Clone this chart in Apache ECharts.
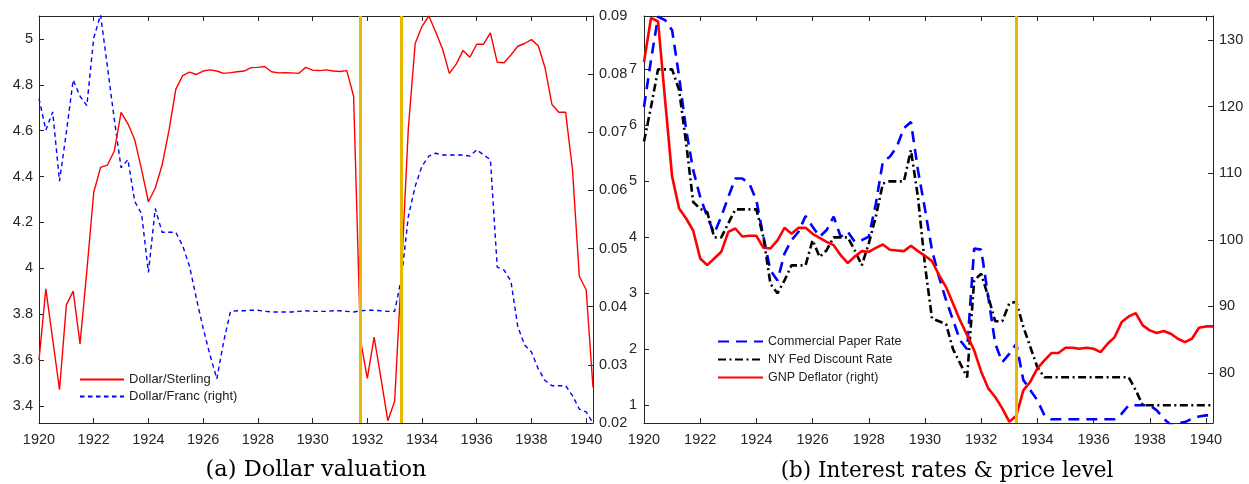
<!DOCTYPE html>
<html><head><meta charset="utf-8">
<script src="https://cdn.jsdelivr.net/npm/echarts@6/dist/echarts.min.js"></script>
<style>html,body{margin:0;padding:0;background:#fff}#c{width:1249px;height:484px}</style>
</head><body><div id="c"></div><script>
// Quarterly observations, 1920Q1 .. 1940Q2
const startYear = 1920;
const quarters = Array.from({length: 82}, (_, i) => startYear + i * 0.25);
const yearTicks = [1920,1922,1924,1926,1928,1930,1932,1934,1936,1938,1940];

// Panel (a): Dollar valuation
const dollarSterling = [
  3.60,3.91,3.69,3.47, 3.84,3.90,3.67,3.99, 4.33,4.44,4.45,4.51, 4.68,4.63,4.56,4.43,
  4.29,4.35,4.45,4.60, 4.78,4.84,4.855,4.845, 4.86,4.865,4.86,4.85, 4.853,4.857,4.86,4.875,
  4.876,4.88,4.857,4.852, 4.853,4.852,4.85,4.876, 4.864,4.862,4.865,4.86, 4.858,4.862,4.75,3.69,
  3.52,3.70,3.52,3.335, 3.42,3.99,4.61,4.98, 5.055,5.10,5.03,4.956, 4.85,4.89,4.95,4.92,
  4.977,4.977,5.026,4.898, 4.896,4.93,4.968,4.98, 4.997,4.97,4.873,4.714, 4.68,4.68,4.43,3.965,
  3.906,3.48
];
const dollarFranc = [
  0.0758,0.0704,0.0735,0.0616, 0.0700,0.0790,0.0762,0.0746, 0.0862,0.0902,0.0813,0.0723, 0.0639,0.0653,0.0581,0.0560,
  0.0459,0.0569,0.0528,0.0528, 0.0528,0.0505,0.0470,0.0415, 0.0363,0.0317,0.0276,0.0340, 0.0392,0.0393,0.0393,0.0394,
  0.0394,0.0392,0.0391,0.0391, 0.0391,0.0391,0.0392,0.0393, 0.0392,0.0392,0.0392,0.0393, 0.0393,0.0392,0.0391,0.0393,
  0.0394,0.0394,0.0393,0.0392, 0.0392,0.0450,0.0555,0.0607, 0.0642,0.0659,0.0664,0.0661, 0.0661,0.0661,0.0661,0.0659,
  0.0670,0.0661,0.0653,0.0468, 0.0463,0.0444,0.0366,0.0334, 0.0322,0.0293,0.0273,0.0264, 0.0264,0.0264,0.0247,0.0224,
  0.0219,0.0200
];
const leftTicksA = [3.4,3.6,3.8,4,4.2,4.4,4.6,4.8,5];
const rightTicksA = [0.02,0.03,0.04,0.05,0.06,0.07,0.08,0.09];

// Panel (b): Interest rates & price level
const commercialPaper = [
  6.33,7.17,7.94,7.88, 7.70,6.87,5.92,5.20, 4.72,4.37,4.07,4.37, 4.72,5.05,5.05,4.96,
  4.66,4.01,3.41,3.23, 3.71,3.95,4.10,4.38, 4.19,4.01,4.13,4.37, 4.01,4.10,3.92,3.95,
  4.01,4.60,5.35,5.44, 5.62,5.95,6.06,5.20, 4.50,3.77,3.29,2.88, 2.52,2.16,2.00,3.80,
  3.78,2.94,2.10,1.77, 1.92,2.10,1.45,1.27, 1.09,0.82,0.75,0.75, 0.75,0.75,0.75,0.75,
  0.75,0.75,0.75,0.75, 0.85,1.00,1.00,1.00, 1.00,0.91,0.76,0.65, 0.68,0.70,0.76,0.80,
  0.82,0.82
];
const nyFedDiscount = [
  5.71,6.33,7.00,7.00, 7.00,6.63,5.68,4.63, 4.51,4.45,4.00,4.00, 4.25,4.50,4.50,4.50,
  4.50,4.00,3.17,3.00, 3.23,3.50,3.50,3.50, 3.95,3.65,3.77,4.00, 4.00,4.00,3.77,3.50,
  3.89,4.37,4.96,5.00, 5.00,5.00,5.56,4.72, 3.50,2.55,2.50,2.45, 2.00,1.75,1.50,3.23,
  3.35,2.94,2.50,2.50, 2.82,2.85,2.40,2.04, 1.68,1.50,1.50,1.50, 1.50,1.50,1.50,1.50,
  1.50,1.50,1.50,1.50, 1.50,1.50,1.27,1.00, 1.00,1.00,1.00,1.00, 1.00,1.00,1.00,1.00,
  1.00,1.00
];
const gnpDeflator = [
  126.7,133.3,132.8,121.0, 109.5,104.7,103.2,101.4, 97.2,96.2,97.2,98.2, 101.2,101.7,100.5,100.6,
  100.6,98.8,98.7,99.9, 101.8,100.9,101.8,101.8, 100.9,100.3,99.7,99.2, 97.7,96.5,97.5,98.3,
  98.2,98.8,99.3,98.5, 98.4,98.3,99.1,98.3, 97.6,96.8,94.7,92.9, 90.4,87.9,85.7,83.4,
  80.2,77.7,76.4,74.7, 72.7,73.6,77.4,78.7, 80.7,81.9,83.0,83.0, 83.8,83.8,83.65,83.8,
  83.65,83.15,84.4,85.4, 87.65,88.5,89.0,87.15, 86.4,86.0,86.3,85.9, 85.15,84.65,85.15,86.8,
  87.0,87.0
];
const leftTicksB = [1,2,3,4,5,6,7];
const rightTicksB = [80,90,100,110,120,130];

const goldDates = [1931.75, 1933.25];

const pair = arr => arr.map((v, i) => [quarters[i], v]);
const AX = '#262626';
const FONT = 'Liberation Sans';
const axisBase = {
  axisLine: {show: true, lineStyle: {color: AX, width: 1}},
  splitLine: {show: false},
};
function xAx(grid, pos, showLabels) {
  return Object.assign({}, axisBase, {
    type: 'value', gridIndex: grid, position: pos, min: 1920, max: 1940.25,
    axisTick: {show: true, inside: true, length: 5, lineStyle: {color: AX}, customValues: yearTicks},
    axisLabel: {show: showLabels, customValues: yearTicks, margin: 9, color: AX, fontFamily: FONT, fontSize: 14.5,
      formatter: v => String(Math.round(v))}
  });
}
function yAx(grid, pos, min, max, ticks, fmt, margin) {
  return Object.assign({}, axisBase, {
    type: 'value', gridIndex: grid, position: pos, min: min, max: max,
    axisTick: {show: true, inside: true, length: 5, lineStyle: {color: AX}, customValues: ticks},
    axisLabel: {customValues: ticks, margin: margin, color: AX, fontFamily: FONT, fontSize: 14.5, formatter: fmt}
  });
}
const goldLine = (dates) => ({
  silent: true, symbol: 'none', animation: false,
  label: {show: false},
  lineStyle: {color: '#E6B800', width: 3, type: 'solid'},
  data: dates.map(d => ({xAxis: d}))
});
const captionStyle = (size) => ({fontFamily: 'DejaVu Serif', fontSize: size, fontWeight: 'normal', color: '#000'});

const chart = echarts.init(document.getElementById('c'), null, {renderer: 'canvas'});
chart.setOption({
  animation: false,
  backgroundColor: '#fff',
  title: [
    {text: '(a) Dollar valuation', left: 316, top: 459, textAlign: 'center', padding: 0, textStyle: captionStyle(22.5)},
    {text: '(b) Interest rates & price level', left: 947, top: 460, textAlign: 'center', padding: 0, textStyle: captionStyle(21.5)}
  ],
  grid: [
    {left: 39, top: 16, right: 656, bottom: 61},
    {left: 644, top: 16, right: 36, bottom: 61}
  ],
  legend: [
    {data: ['Dollar/Sterling', 'Dollar/Franc (right)'], orient: 'vertical', left: 74, top: 368,
      itemWidth: 44, itemHeight: 14, itemGap: 4, selectedMode: false,
      itemStyle: {opacity: 0},
      textStyle: {fontFamily: FONT, fontSize: 13, color: '#222'}},
    {data: ['Commercial Paper Rate', 'NY Fed Discount Rate', 'GNP Deflator (right)'], orient: 'vertical', left: 712, top: 330,
      itemWidth: 45, itemHeight: 14, itemGap: 5, selectedMode: false,
      itemStyle: {opacity: 0},
      textStyle: {fontFamily: FONT, fontSize: 12.5, color: '#222'}}
  ],
  xAxis: [xAx(0, 'bottom', true), xAx(0, 'top', false), xAx(1, 'bottom', true), xAx(1, 'top', false)],
  yAxis: [
    yAx(0, 'left', 3.325, 5.1, leftTicksA, v => String(+(+v).toFixed(1)), 6),
    yAx(0, 'right', 0.02, 0.09, rightTicksA, v => (+v).toFixed(2), 6),
    yAx(1, 'left', 0.684, 7.953, leftTicksB, v => String(Math.round(v)), 7),
    yAx(1, 'right', 72.5, 133.6, rightTicksB, v => String(Math.round(v)), 6)
  ],
  series: [
    {name: 'Dollar/Sterling', type: 'line', xAxisIndex: 0, yAxisIndex: 0, data: pair(dollarSterling),
      symbol: 'none', lineStyle: {color: '#FF0000', width: 1.4}, itemStyle: {color: '#FF0000'}, z: 3,
      markLine: goldLine(goldDates)},
    {name: 'Dollar/Franc (right)', type: 'line', xAxisIndex: 0, yAxisIndex: 1, data: pair(dollarFranc),
      symbol: 'none', lineStyle: {color: '#0000FF', width: 1.4, type: [4.5, 3.5]}, itemStyle: {color: '#0000FF'}, z: 2},
    {name: 'Commercial Paper Rate', type: 'line', xAxisIndex: 2, yAxisIndex: 2, data: pair(commercialPaper),
      symbol: 'none', lineStyle: {color: '#0000FF', width: 2.6, type: [11, 7]}, itemStyle: {color: '#0000FF'}, z: 2},
    {name: 'NY Fed Discount Rate', type: 'line', xAxisIndex: 2, yAxisIndex: 2, data: pair(nyFedDiscount),
      symbol: 'none', lineStyle: {color: '#000000', width: 2.6, type: [8, 3.5, 2, 3.5]}, itemStyle: {color: '#000000'}, z: 3},
    {name: 'GNP Deflator (right)', type: 'line', xAxisIndex: 2, yAxisIndex: 3, data: pair(gnpDeflator),
      symbol: 'none', lineStyle: {color: '#FF0000', width: 2.6}, itemStyle: {color: '#FF0000'}, z: 4,
      markLine: goldLine([goldDates[1]])}
  ]
});
</script></body></html>
